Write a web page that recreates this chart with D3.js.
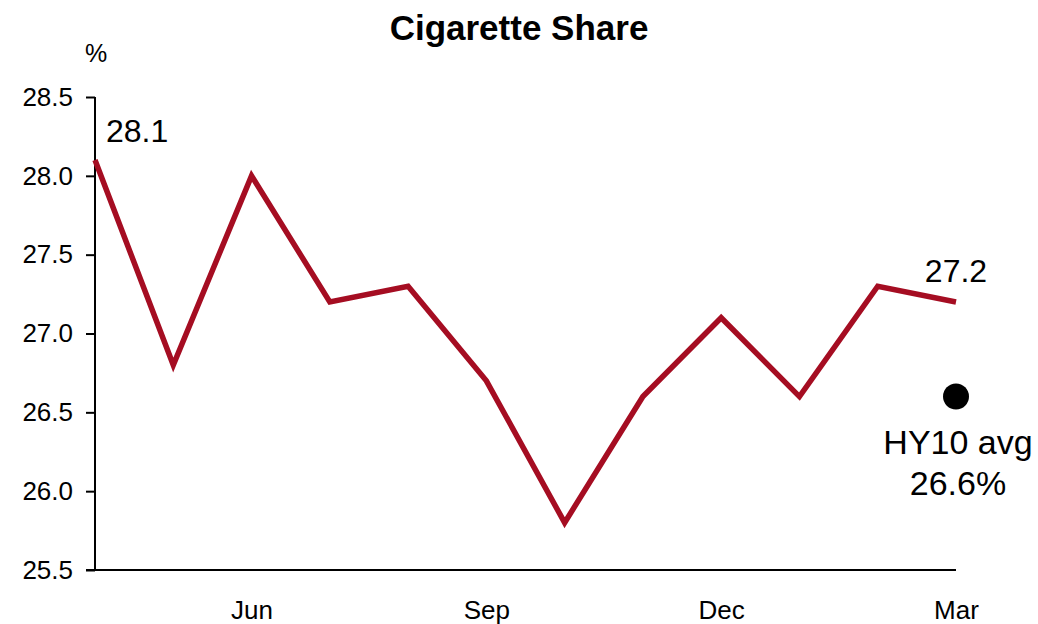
<!DOCTYPE html>
<html>
<head>
<meta charset="utf-8">
<script src="https://cdn.jsdelivr.net/npm/d3@7/dist/d3.min.js"></script>
<style>
  html, body { margin: 0; padding: 0; background: #fff; }
  svg { display: block; font-family: "Liberation Sans", Arial, sans-serif; }
</style>
</head>
<body>
<svg id="chart" width="1038" height="624"></svg>
<script>
// Monthly cigarette share, April through March
const months = ["Apr", "May", "Jun", "Jul", "Aug", "Sep", "Oct", "Nov", "Dec", "Jan", "Feb", "Mar"];
const share = [28.1, 26.8, 28.0, 27.2, 27.3, 26.7, 25.8, 26.6, 27.1, 26.6, 27.3, 27.2];
const labelledMonths = ["Jun", "Sep", "Dec", "Mar"];
const yTicks = [25.5, 26.0, 26.5, 27.0, 27.5, 28.0, 28.5];
const halfYearAvg = 26.6;

const svg = d3.select("#chart");
const plotLeft = 95, plotRight = 956, plotTop = 97, plotBottom = 570;
const fontFamily = "'Liberation Sans', Arial, sans-serif";

const x = d3.scalePoint().domain(months).range([plotLeft, plotRight]);
const y = d3.scaleLinear().domain([25.5, 28.5]).range([plotBottom, plotTop]);

// Title
svg.append("text")
  .attr("x", 519).attr("y", 40)
  .attr("text-anchor", "middle")
  .attr("font-size", 35).attr("font-weight", "bold")
  .text("Cigarette Share");

// Unit label
svg.append("text")
  .attr("x", 96).attr("y", 62)
  .attr("text-anchor", "middle")
  .attr("font-size", 25)
  .text("%");

// Y axis
const yAxis = svg.append("g")
  .attr("transform", `translate(${plotLeft},0)`)
  .call(d3.axisLeft(y).tickValues(yTicks).tickFormat(d3.format(".1f")).tickSize(9).tickPadding(13));
yAxis.select(".domain").attr("stroke", "#000").attr("stroke-width", 2).attr("d", `M0,${plotTop}V${plotBottom}`);
yAxis.selectAll(".tick line").attr("stroke", "#000").attr("stroke-width", 2);
yAxis.selectAll(".tick text").attr("font-size", 26).attr("fill", "#000")
  .attr("font-family", fontFamily);

// X axis
const xAxis = svg.append("g")
  .attr("transform", `translate(0,${plotBottom})`)
  .call(d3.axisBottom(x).tickValues(labelledMonths).tickSize(0).tickPadding(31));
xAxis.select(".domain").attr("stroke", "#000").attr("stroke-width", 2).attr("d", `M${plotLeft - 9},0H${plotRight}`);
xAxis.selectAll(".tick text").attr("font-size", 26).attr("fill", "#000")
  .attr("font-family", fontFamily);

// Share line
const line = d3.line().x((d, i) => x(months[i])).y(d => y(d));
svg.append("path")
  .datum(share)
  .attr("fill", "none")
  .attr("stroke", "#A50D22")
  .attr("stroke-width", 5.5)
  .attr("stroke-linejoin", "miter")
  .attr("d", line);

// First and last value labels
svg.append("text")
  .attr("x", x(months[0]) + 11).attr("y", y(share[0]) - 18)
  .attr("font-size", 32)
  .text(share[0].toFixed(1));
const lastM = months[months.length - 1];
svg.append("text")
  .attr("x", x(lastM)).attr("y", y(share[share.length - 1]) - 20)
  .attr("text-anchor", "middle")
  .attr("font-size", 32)
  .text(share[share.length - 1].toFixed(1));

// Half-year average marker
svg.append("circle")
  .attr("cx", x(lastM)).attr("cy", y(halfYearAvg))
  .attr("r", 13).attr("fill", "#000");
svg.append("text")
  .attr("x", x(lastM) + 2).attr("y", y(halfYearAvg) + 57)
  .attr("text-anchor", "middle")
  .attr("font-size", 34)
  .text("HY10 avg");
svg.append("text")
  .attr("x", x(lastM) + 2).attr("y", y(halfYearAvg) + 98)
  .attr("text-anchor", "middle")
  .attr("font-size", 34)
  .text(halfYearAvg.toFixed(1) + "%");
</script>
</body>
</html>
